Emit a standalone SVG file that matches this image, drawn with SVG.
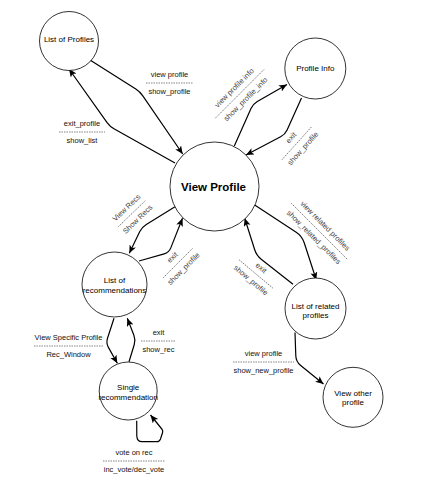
<svg xmlns="http://www.w3.org/2000/svg" width="428" height="486" viewBox="0 0 428 486">
<defs>
<style>
.node circle{fill:#fff;stroke:#000;stroke-width:0.8}
.nt{font-family:"Liberation Sans",Arial,sans-serif;font-size:8px;text-anchor:middle;fill:#000}
.big{font-size:11.5px;font-weight:bold}
.edge{fill:none;stroke:#000;stroke-width:1.2;marker-end:url(#arr)}
.lbl{font-family:"Liberation Sans",Arial,sans-serif;font-size:7.5px;text-anchor:middle;fill:#111}
.rl{fill:#444}
.dash{stroke:#333;stroke-width:0.6;stroke-dasharray:1.5 1}
</style>
<marker id="arr" markerUnits="userSpaceOnUse" markerWidth="9" markerHeight="8" refX="8" refY="3.5" orient="auto">
<path d="M0,0 L8,3.5 L0,7 L2,3.5 Z" fill="#000"/>
</marker>
</defs>
<rect width="428" height="486" fill="#fff"/>

<g id="connectors">
<g id="e1"><path class="edge" d="M90,60 L135.8,89 Q140,91.7 142.8,95.8 L182.7,154"/>
<text class="lbl" x="169.5" y="76.5">view profile</text><line class="dash" x1="146" y1="83" x2="193" y2="83"/><text class="lbl" x="169.5" y="93.5">show_profile</text></g>
<g id="e2"><path class="edge" d="M175,163 L114.4,129.1 Q110,126.7 107.1,122.6 L69,69"/>
<text class="lbl" x="82" y="125.5">exit_profile</text><line class="dash" x1="59" y1="132" x2="105" y2="132"/><text class="lbl" x="82" y="142.5">show_list</text></g>
<g id="e3"><path class="edge" d="M234.3,146 L251,108.6 Q253,104 257.3,101.5 L287,84.5"/>
<g transform="translate(240,93.5) rotate(-45)"><text class="lbl rl" x="0" y="-5.5">view profile info</text><line class="dash" x1="-35" y1="0" x2="35" y2="0"/><text class="lbl rl" x="0" y="10.5">show_profile_info</text></g></g>
<g id="e4"><path class="edge" d="M301.5,98 L287.1,130 Q285,134.5 280.6,136.8 L246,155"/>
<g transform="translate(297,143) rotate(-48)"><text class="lbl rl" x="0" y="-5.5">exit</text><line class="dash" x1="-22.5" y1="0" x2="22.5" y2="0"/><text class="lbl rl" x="0" y="10.5">show_profile</text></g></g>
<g id="e5"><path class="edge" d="M175,206.7 L146.3,224.4 Q142,227 139.8,231.5 L129.3,253.3"/>
<g transform="translate(132,213.5) rotate(-44)"><text class="lbl rl" x="0" y="-5.5">View Recs</text><line class="dash" x1="-19" y1="0" x2="19" y2="0"/><text class="lbl rl" x="0" y="10.5">Show Recs</text></g></g>
<g id="e6"><path class="edge" d="M139,261 L164.2,253.9 Q169,252.5 170.8,247.9 L182.5,218.3"/>
<g transform="translate(178,263) rotate(-45)"><text class="lbl rl" x="0" y="-5.5">exit</text><line class="dash" x1="-21" y1="0" x2="21" y2="0"/><text class="lbl rl" x="0" y="10.5">show_profile</text></g></g>
<g id="e7"><path class="edge" d="M254.7,205 L296.2,232.2 Q302,236 304.2,242.7 L316.3,280"/>
<g transform="translate(319.5,231.5) rotate(45)"><text class="lbl rl" x="0" y="-5.5">view related profiles</text><line class="dash" x1="-40" y1="0" x2="40" y2="0"/><text class="lbl rl" x="0" y="10.5">show_related_profiles</text></g></g>
<g id="e8"><path class="edge" d="M293,284.3 L261.2,259.2 Q256.5,255.5 254.7,249.8 L244.7,218.3"/>
<g transform="translate(256,274) rotate(40)"><text class="lbl rl" x="0" y="-5.5">exit</text><line class="dash" x1="-22" y1="0" x2="22" y2="0"/><text class="lbl rl" x="0" y="10.5">show_profile</text></g></g>
<g id="e9"><path class="edge" d="M295,332.5 L295.8,355.7 Q296,361.7 300.7,365.5 L323.5,384"/>
<text class="lbl" x="263.5" y="355.5">view profile</text><line class="dash" x1="233" y1="362" x2="294" y2="362"/><text class="lbl" x="263.5" y="372.5">show_new_profile</text></g>
<g id="e10"><path class="edge" d="M114,318.3 L107.5,338.2 Q106,343 108.4,347.4 L117.3,363.3"/>
<text class="lbl" x="68.5" y="339.5">View Specific Profile</text><line class="dash" x1="34" y1="346" x2="103" y2="346"/><text class="lbl" x="68.5" y="356.5">Rec_Window</text></g>
<g id="e11"><path class="edge" d="M129,361.7 L134.2,344.8 Q135.7,340 133.9,335.3 L127.3,318.3"/>
<text class="lbl" x="158.5" y="334.5">exit</text><line class="dash" x1="141" y1="341" x2="176" y2="341"/><text class="lbl" x="158.5" y="351.5">show_rec</text></g>
<g id="e12"><path class="edge" d="M136.7,420.7 L136.8,436 Q137,441.7 142,441.7 L157,441.7 Q159.5,441.7 160.5,439 L162.6,432.5 Q163.2,430.5 161.8,429 L150.5,415"/>
<text class="lbl" x="134" y="454.5">vote on rec</text><line class="dash" x1="103" y1="461" x2="165" y2="461"/><text class="lbl" x="134" y="471.5">inc_vote/dec_vote</text></g>
</g>

<g id="list-of-profiles" class="node"><circle cx="69" cy="41" r="29.5"/><text class="nt" x="69" y="41.5">List of Profiles</text></g>
<g id="profile-info" class="node"><circle cx="315.3" cy="68.5" r="30.5"/><text class="nt" x="315.3" y="71">Profile Info</text></g>
<g id="view-profile" class="node"><circle cx="214.5" cy="186.5" r="44.5"/><text class="nt big" x="213.5" y="190.5">View Profile</text></g>
<g id="list-of-recommendations" class="node"><circle cx="114.5" cy="284.5" r="32.5"/><text class="nt" x="114.5" y="283">List of</text><text class="nt" x="114.5" y="292.5">recommendations</text></g>
<g id="single-recommendation" class="node"><circle cx="128.2" cy="391" r="29"/><text class="nt" x="128.2" y="390.3">Single</text><text class="nt" x="128.2" y="399.8">recommendation</text></g>
<g id="list-of-related-profiles" class="node"><circle cx="315.5" cy="308.5" r="30.5"/><text class="nt" x="315.5" y="308.5">List of related</text><text class="nt" x="315.5" y="317.5">profiles</text></g>
<g id="view-other-profile" class="node"><circle cx="353" cy="397.3" r="30"/><text class="nt" x="353" y="395.7">View other</text><text class="nt" x="353" y="404.7">profile</text></g>
</svg>
